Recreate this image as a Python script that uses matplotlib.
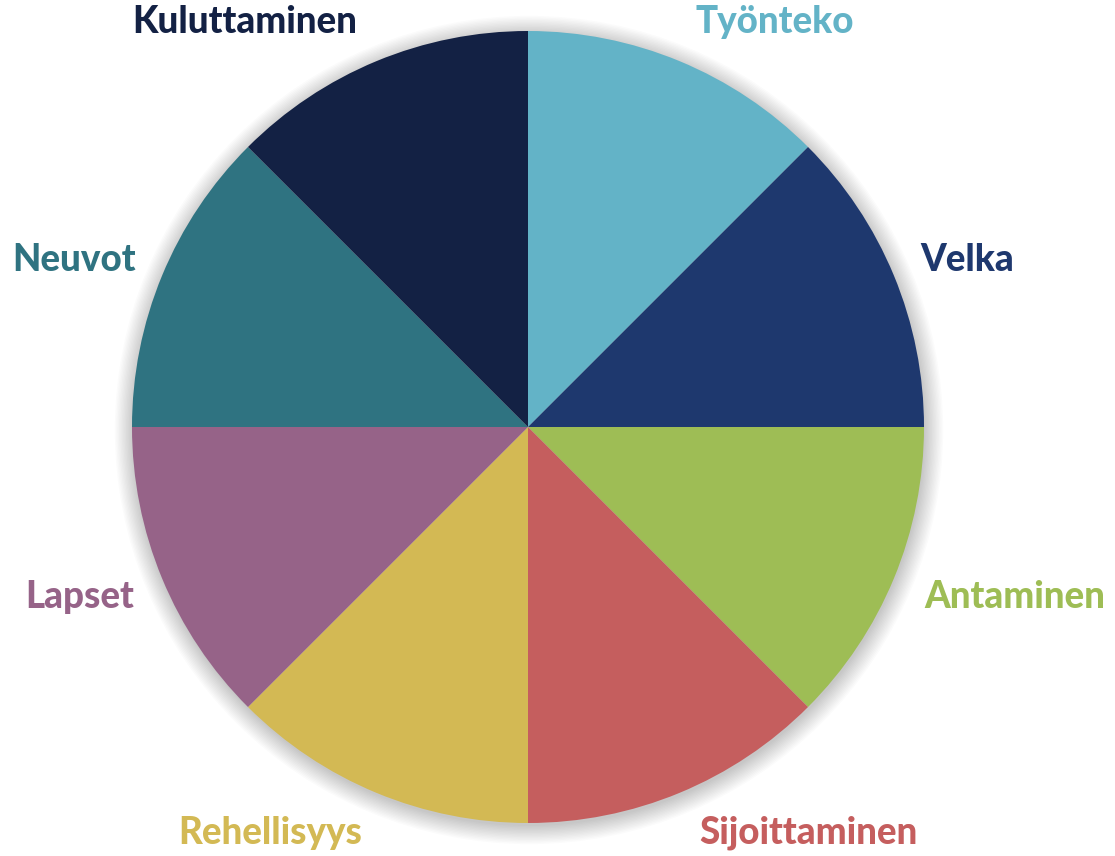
import matplotlib.pyplot as plt
from matplotlib.patches import Circle

# osuudet (kaikki yhtä suuria)
categories = ["Työnteko", "Velka", "Antaminen", "Sijoittaminen",
              "Rehellisyys", "Lapset", "Neuvot", "Kuluttaminen"]
values = [1, 1, 1, 1, 1, 1, 1, 1]
colors = ["#63B3C7", "#1E386E", "#9EBD55", "#C55E5E",
          "#D3B954", "#966388", "#2F7381", "#132144"]

# tekstien paikat (pikseleinä, y ylöspäin)
label_pos = [(775, 834), (967, 596), (1015, 259), (808, 23),
             (270, 23), (80, 259), (74, 596), (245, 834)]

CENTER = (528, 429)
RADIUS = 396


def main():
    fig = plt.figure(figsize=(11.15, 8.56), dpi=100)
    ax = fig.add_axes([0, 0, 1, 1])

    # pehmeä varjo
    for i in range(14):
        ax.add_patch(Circle((CENTER[0] + 1, CENTER[1] - 3), RADIUS + i * 1.4,
                            color="black", alpha=0.016, lw=0, zorder=0))

    ax.pie(values, colors=colors, startangle=90, counterclock=False,
           center=CENTER, radius=RADIUS, frame=True,
           wedgeprops=dict(linewidth=0, zorder=2))
    ax.set_xlim(0, 1115)
    ax.set_ylim(0, 856)
    ax.set_aspect("equal")
    ax.axis("off")

    for name, col, (x, y) in zip(categories, colors, label_pos):
        ax.text(x, y, name, color=col, fontsize=26.5, fontweight="black",
                family="Lato", ha="center", va="center")

    plt.savefig("out.png", dpi=100)
    plt.close()


if __name__ == "__main__":
    main()
